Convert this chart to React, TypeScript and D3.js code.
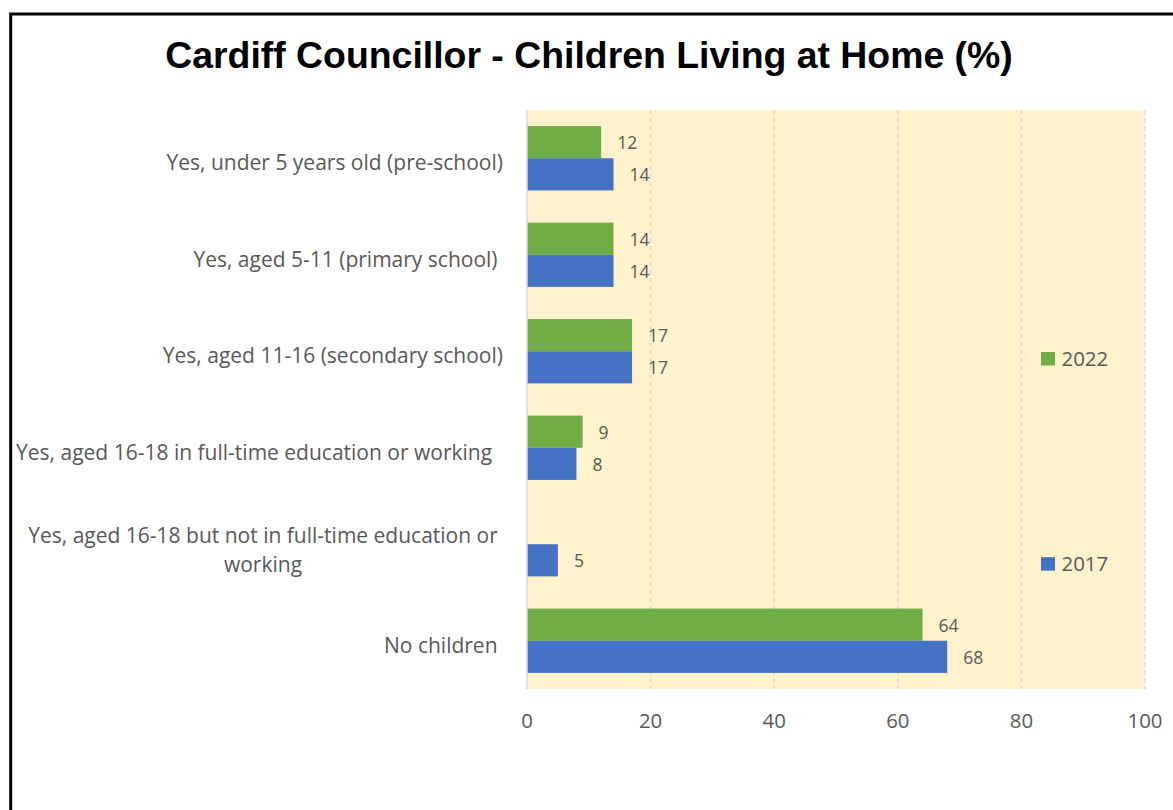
import React from "react";
import * as d3 from "d3";

const categories: string[][] = [
  ["Yes, under 5 years old (pre-school)"],
  ["Yes, aged 5-11 (primary school) "],
  ["Yes, aged 11-16 (secondary school)"],
  ["Yes, aged 16-18 in full-time education or working  "],
  ["Yes, aged 16-18 but not in full-time education or", "working"],
  ["No children "],
];
const values2022: (number | null)[] = [12, 14, 17, 9, null, 64];
const values2017: (number | null)[] = [14, 14, 17, 8, 5, 68];
const seriesNames = ["2022", "2017"];
const xTicks = [0, 20, 40, 60, 80, 100];
const title = "Cardiff Councillor - Children Living at Home (%)";

const W = 1173;
const H = 810;
const GREEN = "#70AD47";
const BLUE = "#4472C4";
const TEXT = "#595959";
const FONT = "'Open Sans', Lato, sans-serif";

export default function App() {
  const plotLeft = 527;
  const plotRight = 1145;
  const plotTop = 110;
  const plotBottom = 689;

  const x = d3.scaleLinear().domain([0, 100]).range([plotLeft, plotRight]);
  const y = d3
    .scaleBand<number>()
    .domain(d3.range(categories.length))
    .range([plotTop, plotBottom]);
  const bandH = y.bandwidth();
  const barH = bandH / 3;

  const series = [
    { name: seriesNames[0], values: values2022, color: GREEN, offset: 0 },
    { name: seriesNames[1], values: values2017, color: BLUE, offset: 1 },
  ];

  return (
    <div style={{ position: "fixed", left: 0, top: 0 }}>
      <svg width={W} height={H} style={{ display: "block", background: "#fff" }}>
        <rect x={10.7} y={14} width={W + 20} height={H + 20} fill="#fff" stroke="#000" strokeWidth={3} />
        <text
          x={589}
          y={68}
          textAnchor="middle"
          fontFamily="'Liberation Sans', Arial, sans-serif"
          fontWeight="bold"
          fontSize={37.4}
          fill="#000"
        >
          {title}
        </text>
        <rect x={plotLeft} y={plotTop} width={plotRight - plotLeft} height={plotBottom - plotTop} fill="#FFF2CC" />
        {xTicks.slice(1).map((t) => (
          <line
            key={t}
            x1={x(t)}
            x2={x(t)}
            y1={plotTop}
            y2={plotBottom}
            stroke="#D9D9D9"
            strokeWidth={1.5}
            strokeDasharray="5,3"
          />
        ))}
        {series.map((s) =>
          s.values.map((v, i) =>
            v == null ? null : (
              <g key={s.name + i}>
                <rect
                  x={x(0)}
                  y={(y(i) as number) + barH / 2 + s.offset * barH}
                  width={x(v) - x(0)}
                  height={barH}
                  fill={s.color}
                />
                <text
                  x={x(v) + 16}
                  y={(y(i) as number) + barH / 2 + s.offset * barH + barH / 2 + 7}
                  fontFamily={FONT}
                  fontSize={17.5}
                  fill={TEXT}
                >
                  {v}
                </text>
              </g>
            )
          )
        )}
        <line x1={plotLeft} x2={plotLeft} y1={plotTop} y2={plotBottom} stroke="#D9D9D9" strokeWidth={1.5} />
        {xTicks.map((t) => (
          <text key={t} x={x(t)} y={728} textAnchor="middle" fontFamily={FONT} fontSize={20.4} fill={TEXT}>
            {t}
          </text>
        ))}
        {categories.map((lines, i) => {
          const cy = (y(i) as number) + bandH / 2;
          if (lines.length === 1) {
            return (
              <text
                key={i}
                x={503}
                y={cy + 12}
                textAnchor="end"
                fontFamily={FONT}
                fontSize={21}
                fill={TEXT}
                style={{ whiteSpace: "pre" }}
              >
                {lines[0]}
              </text>
            );
          }
          return (
            <g key={i}>
              {lines.map((ln, j) => (
                <text
                  key={j}
                  x={263}
                  y={cy - 1 + j * 29}
                  textAnchor="middle"
                  fontFamily={FONT}
                  fontSize={21}
                  fill={TEXT}
                >
                  {ln}
                </text>
              ))}
            </g>
          );
        })}
        {series.map((s, k) => {
          const base = k === 0 ? 365.5 : 570.7;
          return (
            <g key={s.name}>
              <rect x={1041} y={base - 13.5} width={14} height={13.5} fill={s.color} />
              <text x={1061.5} y={base} fontFamily={FONT} fontSize={20.4} fill={TEXT}>
                {s.name}
              </text>
            </g>
          );
        })}
      </svg>
    </div>
  );
}
